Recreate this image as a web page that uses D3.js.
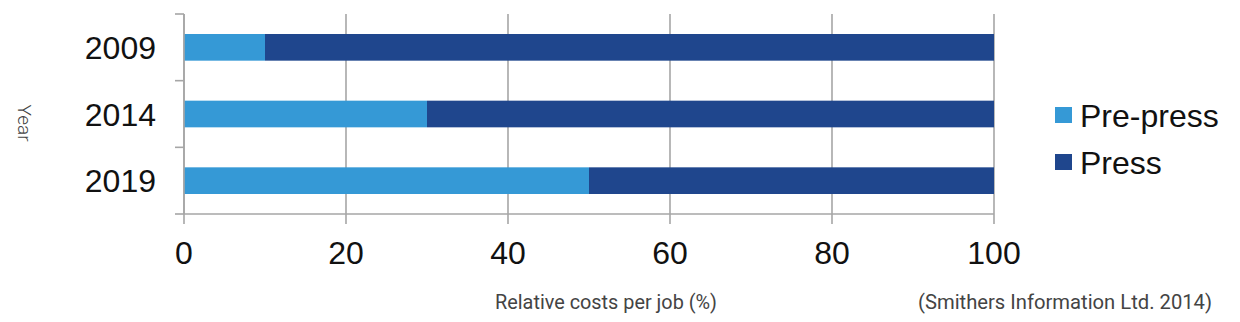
<!DOCTYPE html>
<html><head><meta charset="utf-8">
<script src="https://cdn.jsdelivr.net/npm/d3@7"></script>
<style>body{margin:0;background:#fff}svg{display:block}</style>
</head><body><svg id="c" width="1240" height="322"></svg>
<script>
const years = ["2009", "2014", "2019"];
const prePress = [10, 30, 50];
const press = [90, 70, 50];
const seriesNames = ["Pre-press", "Press"];
const xTicks = [0, 20, 40, 60, 80, 100];

const svg = d3.select("#c");
const colors = ["#3599d6", "#1f468d"];
const gridColor = "#a6a6a6";
const x = d3.scaleLinear().domain([0, 100]).range([184, 994]);
const y = d3.scaleBand().domain(years).range([14, 214]).paddingInner(0.6).paddingOuter(0.3);

// gridlines (vertical) incl. tick below axis
svg.append("g").selectAll("line").data(xTicks).join("line")
  .attr("x1", d => x(d)).attr("x2", d => x(d))
  .attr("y1", 14).attr("y2", 224)
  .attr("stroke", gridColor).attr("stroke-width", 1.6);

// bars
const rows = years.map((yr, i) => ({yr, vals: [prePress[i], press[i]]}));
rows.forEach(r => {
  let acc = 0;
  r.vals.forEach((v, j) => {
    svg.append("rect")
      .attr("x", x(acc)).attr("width", x(acc + v) - x(acc))
      .attr("y", y(r.yr)).attr("height", y.bandwidth())
      .attr("fill", colors[j]);
    acc += v;
  });
});

// y axis line + ticks at band boundaries
const bounds = [0, 1, 2, 3].map(i => 14 + i * (200 / 3));
svg.append("line").attr("x1", 184).attr("x2", 184).attr("y1", 14).attr("y2", 214)
  .attr("stroke", gridColor).attr("stroke-width", 1.6);
svg.append("g").selectAll("line").data(bounds).join("line")
  .attr("x1", 175).attr("x2", 184).attr("y1", d => d).attr("y2", d => d)
  .attr("stroke", gridColor).attr("stroke-width", 1.6);
// x axis line
svg.append("line").attr("x1", 184).attr("x2", 994).attr("y1", 214).attr("y2", 214)
  .attr("stroke", gridColor).attr("stroke-width", 1.6);

// y labels
svg.append("g").selectAll("text").data(years).join("text")
  .attr("x", 156).attr("y", d => y(d) + y.bandwidth() / 2)
  .attr("dy", "0.36em").attr("text-anchor", "end")
  .attr("font-family", "Liberation Sans, Arial, sans-serif").attr("font-size", 32)
  .attr("fill", "#111").text(d => d);

// x labels
svg.append("g").selectAll("text").data(xTicks).join("text")
  .attr("x", d => x(d)).attr("y", 264).attr("text-anchor", "middle")
  .attr("font-family", "Liberation Sans, Arial, sans-serif").attr("font-size", 32)
  .attr("fill", "#111").text(d => d);

// axis titles
svg.append("text").attr("transform", "translate(18,123) rotate(90)")
  .attr("text-anchor", "middle").attr("font-family", "Roboto, sans-serif").attr("font-weight", 300)
  .attr("font-size", 19).attr("fill", "#444").text("Year");
svg.append("text").attr("x", 495).attr("y", 309)
  .attr("font-family", "Roboto, sans-serif").attr("font-weight", 400)
  .attr("font-size", 20).attr("fill", "#444")
  .attr("textLength", 222).attr("lengthAdjust", "spacingAndGlyphs")
  .text("Relative costs per job (%)");
svg.append("text").attr("x", 918).attr("y", 309)
  .attr("font-family", "Roboto, sans-serif").attr("font-weight", 400)
  .attr("font-size", 20).attr("fill", "#444")
  .attr("textLength", 294).attr("lengthAdjust", "spacingAndGlyphs")
  .text("(Smithers Information Ltd. 2014)");

// legend
const lg = svg.append("g").selectAll("g").data(seriesNames).join("g")
  .attr("transform", (d, i) => `translate(1055,${107 + i * 47})`);
lg.append("rect").attr("width", 17).attr("height", 16).attr("fill", (d, i) => colors[i]);
lg.append("text").attr("x", 25).attr("y", 8).attr("dy", "0.36em")
  .attr("font-family", "Liberation Sans, Arial, sans-serif").attr("font-size", 32)
  .attr("fill", "#111").text(d => d);
</script></body></html>
